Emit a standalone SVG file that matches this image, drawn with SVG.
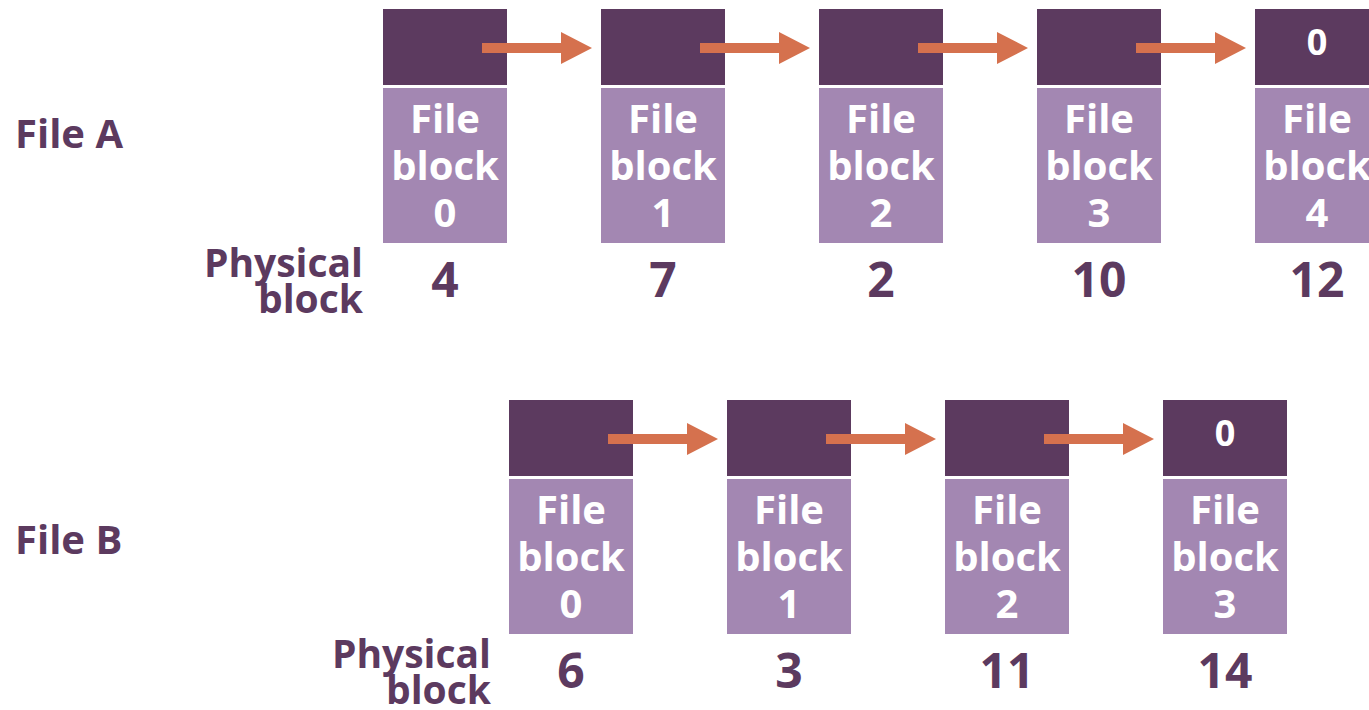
<svg xmlns="http://www.w3.org/2000/svg" width="1369" height="710" viewBox="0 0 1369 710">
  <style>
    .ptr { fill: #5C3A5F; }
    .data { fill: #A387B2; }
    .t { font-family: "Open Sans", "Liberation Sans", sans-serif; font-weight: 700; }
    .in { fill: #FFFFFF; font-size: 40px; text-anchor: middle; }
    .nul { fill: #FFFFFF; font-size: 36px; text-anchor: middle; }
    .num { fill: #5C3A5F; font-size: 48px; text-anchor: middle; }
    .lbl { fill: #5C3A5F; font-size: 40px; }
    .phys { fill: #5C3A5F; font-size: 39px; text-anchor: end; }
    .arrow { fill: #D5714E; }
  </style>
  <defs>
    <!-- next-pointer arrow, drawn relative to the block's left edge and pointer-row centre -->
    <polygon id="nextArrow" points="99,-5 178,-5 178,-16 209,0 178,16 178,5 99,5"/>
  </defs>

  <!-- row labels -->
  <text class="t lbl" x="15" y="148">File A</text>
  <text class="t lbl" x="15" y="554">File B</text>
  <text class="t phys" x="363" y="277">Physical</text>
  <text class="t phys" x="363" y="313">block</text>
  <text class="t phys" x="491" y="668">Physical</text>
  <text class="t phys" x="491" y="704">block</text>

  <!-- File A blocks -->
  <g id="a0">
    <rect class="ptr" x="383" y="9" width="124" height="76"/>
    <rect class="data" x="383" y="88" width="124" height="155"/>
    <text class="t in" x="445" y="133">File</text>
    <text class="t in" x="445" y="180">block</text>
    <text class="t in" x="445" y="227">0</text>
    <text class="t num" x="445" y="297">4</text>
  </g>
  <g id="a1">
    <rect class="ptr" x="601" y="9" width="124" height="76"/>
    <rect class="data" x="601" y="88" width="124" height="155"/>
    <text class="t in" x="663" y="133">File</text>
    <text class="t in" x="663" y="180">block</text>
    <text class="t in" x="663" y="227">1</text>
    <text class="t num" x="663" y="297">7</text>
  </g>
  <g id="a2">
    <rect class="ptr" x="819" y="9" width="124" height="76"/>
    <rect class="data" x="819" y="88" width="124" height="155"/>
    <text class="t in" x="881" y="133">File</text>
    <text class="t in" x="881" y="180">block</text>
    <text class="t in" x="881" y="227">2</text>
    <text class="t num" x="881" y="297">2</text>
  </g>
  <g id="a3">
    <rect class="ptr" x="1037" y="9" width="124" height="76"/>
    <rect class="data" x="1037" y="88" width="124" height="155"/>
    <text class="t in" x="1099" y="133">File</text>
    <text class="t in" x="1099" y="180">block</text>
    <text class="t in" x="1099" y="227">3</text>
    <text class="t num" x="1099" y="297">10</text>
  </g>
  <g id="a4">
    <rect class="ptr" x="1255" y="9" width="124" height="76"/>
    <rect class="data" x="1255" y="88" width="124" height="155"/>
    <text class="t nul" x="1317" y="55">0</text>
    <text class="t in" x="1317" y="133">File</text>
    <text class="t in" x="1317" y="180">block</text>
    <text class="t in" x="1317" y="227">4</text>
    <text class="t num" x="1317" y="297">12</text>
  </g>

  <!-- File B blocks -->
  <g id="b0">
    <rect class="ptr" x="509" y="400" width="124" height="76"/>
    <rect class="data" x="509" y="479" width="124" height="155"/>
    <text class="t in" x="571" y="524">File</text>
    <text class="t in" x="571" y="571">block</text>
    <text class="t in" x="571" y="618">0</text>
    <text class="t num" x="571" y="688">6</text>
  </g>
  <g id="b1">
    <rect class="ptr" x="727" y="400" width="124" height="76"/>
    <rect class="data" x="727" y="479" width="124" height="155"/>
    <text class="t in" x="789" y="524">File</text>
    <text class="t in" x="789" y="571">block</text>
    <text class="t in" x="789" y="618">1</text>
    <text class="t num" x="789" y="688">3</text>
  </g>
  <g id="b2">
    <rect class="ptr" x="945" y="400" width="124" height="76"/>
    <rect class="data" x="945" y="479" width="124" height="155"/>
    <text class="t in" x="1007" y="524">File</text>
    <text class="t in" x="1007" y="571">block</text>
    <text class="t in" x="1007" y="618">2</text>
    <text class="t num" x="1007" y="688">11</text>
  </g>
  <g id="b3">
    <rect class="ptr" x="1163" y="400" width="124" height="76"/>
    <rect class="data" x="1163" y="479" width="124" height="155"/>
    <text class="t nul" x="1225" y="446">0</text>
    <text class="t in" x="1225" y="524">File</text>
    <text class="t in" x="1225" y="571">block</text>
    <text class="t in" x="1225" y="618">3</text>
    <text class="t num" x="1225" y="688">14</text>
  </g>

  <!-- next-block pointers -->
  <g id="connectors" class="arrow">
    <use href="#nextArrow" x="383" y="48"/>
    <use href="#nextArrow" x="601" y="48"/>
    <use href="#nextArrow" x="819" y="48"/>
    <use href="#nextArrow" x="1037" y="48"/>
    <use href="#nextArrow" x="509" y="439"/>
    <use href="#nextArrow" x="727" y="439"/>
    <use href="#nextArrow" x="945" y="439"/>
  </g>
</svg>
